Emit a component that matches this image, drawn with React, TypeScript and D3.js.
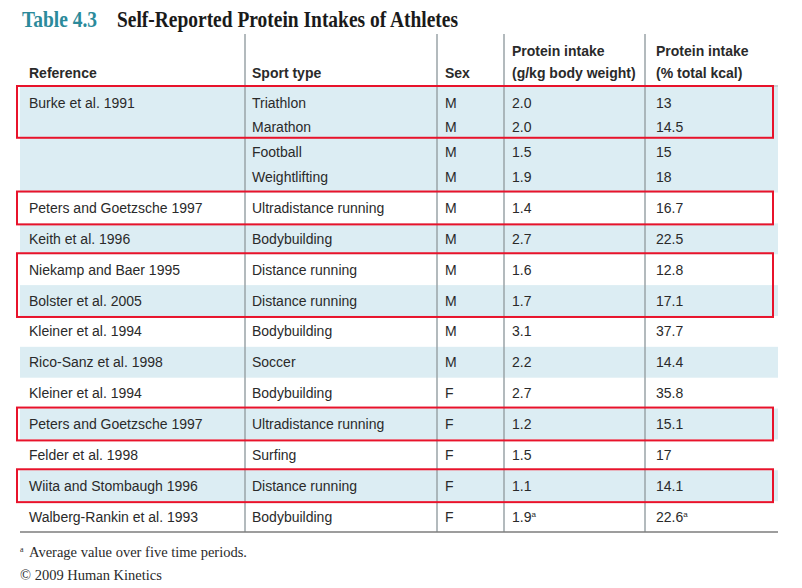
import React from 'react';
import * as d3 from 'd3';

// one entry per printed line of the table
const references = [
  'Burke et al. 1991', '', '', '',
  'Peters and Goetzsche 1997', 'Keith et al. 1996', 'Niekamp and Baer 1995', 'Bolster et al. 2005',
  'Kleiner et al. 1994', 'Rico-Sanz et al. 1998', 'Kleiner et al. 1994', 'Peters and Goetzsche 1997',
  'Felder et al. 1998', 'Wiita and Stombaugh 1996', 'Walberg-Rankin et al. 1993',
];
const sports = [
  'Triathlon', 'Marathon', 'Football', 'Weightlifting',
  'Ultradistance running', 'Bodybuilding', 'Distance running', 'Distance running',
  'Bodybuilding', 'Soccer', 'Bodybuilding', 'Ultradistance running',
  'Surfing', 'Distance running', 'Bodybuilding',
];
const sexes = ['M', 'M', 'M', 'M', 'M', 'M', 'M', 'M', 'M', 'M', 'F', 'F', 'F', 'F', 'F'];
const gPerKg = ['2.0', '2.0', '1.5', '1.9', '1.4', '2.7', '1.6', '1.7', '3.1', '2.2', '2.7', '1.2', '1.5', '1.1', '1.9'];
const pctKcal = ['13', '14.5', '15', '18', '16.7', '22.5', '12.8', '17.1', '37.7', '14.4', '35.8', '15.1', '17', '14.1', '22.6'];
const footnoted = [14];
// highlighted line ranges [first, last]
const highlights = [[0, 1], [4, 4], [6, 7], [11, 11], [13, 13]];

const headers = [
  ['Reference'], ['Sport type'], ['Sex'],
  ['Protein intake', '(g/kg body weight)'], ['Protein intake', '(% total kcal)'],
];
const footnote = 'Average value over five time periods.';
const credit = '\u00A9 2009 Human Kinetics';

const W = 802, H = 588;
const sans = '"Liberation Sans", Arial, sans-serif';
const serif = '"Liberation Serif", "Times New Roman", serif';
const textColor = '#2a2a2a';
const band = '#dcedf3';
const red = '#e8132b';
const rule = '#9aa3a7';

export default function App() {
  const left = 20, right = 778, top = 87, bottom = 532;
  const colText = [29, 252, 445, 512, 656];
  const colSep = [245, 437, 504, 645];

  // group lines into records (a new record starts where a reference is given)
  const starts = references.map((r, i) => (r ? i : -1)).filter(i => i >= 0);
  const records = starts.map((s, k) => ({ start: s, n: (starts[k + 1] ?? references.length) - s }));
  const heights = records.map(r => 31 + (r.n - 1) * 25);
  const tops = [0, ...Array.from(d3.cumsum(heights))];
  const total = tops[tops.length - 1];
  const y = d3.scaleLinear().domain([0, total]).range([top, bottom]);

  const recOf = (i: number) => records.findIndex(r => i >= r.start && i < r.start + r.n);
  const lineTop = (i: number) => {
    const r = recOf(i);
    return y(tops[r] + (i - records[r].start) * 25);
  };
  const lineBottom = (i: number) => {
    const r = recOf(i);
    const k = i - records[r].start;
    return k === records[r].n - 1 ? y(tops[r] + heights[r]) : y(tops[r] + (k + 1) * 25);
  };

  const cells = (i: number) => [references[i], sports[i], sexes[i], gPerKg[i], pctKcal[i]];

  return (
    <svg width={W} height={H} style={{ position: 'absolute', left: 0, top: 0, background: '#fff' }}>
      {/* title */}
      <text x={22} y={27} fontFamily={serif} fontWeight="bold" fontSize={23} fill="#2b8a9b"
        textLength={75} lengthAdjust="spacingAndGlyphs">Table 4.3</text>
      <text x={117} y={27} fontFamily={serif} fontWeight="bold" fontSize={23} fill="#1a1a1a"
        textLength={341} lengthAdjust="spacingAndGlyphs">Self-Reported Protein Intakes of Athletes</text>

      {/* alternating record bands */}
      {records.map((r, k) => k % 2 === 0 && (
        <rect key={k} x={left} y={y(tops[k])} width={right - left} height={y(tops[k] + heights[k]) - y(tops[k])} fill={band} />
      ))}

      {/* rules */}
      {colSep.map((x, k) => (
        <line key={k} x1={x} x2={x} y1={34} y2={bottom} stroke={rule} strokeWidth={1.5} />
      ))}
      <line x1={left} x2={right} y1={86} y2={86} stroke={rule} strokeWidth={1} />
      <line x1={left} x2={right} y1={bottom} y2={bottom} stroke="#7d7d7d" strokeWidth={1.5} />

      {/* header */}
      {headers.map((h, c) => (
        <text key={c} x={colText[c]} fontFamily={sans} fontWeight="bold" fontSize={14} fill={textColor}>
          {h.map((t, j) => (
            <tspan key={j} x={colText[c]} y={78 - (h.length - 1 - j) * 22}>{t}</tspan>
          ))}
        </text>
      ))}

      {/* body */}
      {references.map((_, i) => cells(i).map((v, c) => v && (
        <text key={`${i}-${c}`} x={colText[c]} y={lineTop(i) + 20.5} fontFamily={sans} fontSize={14} fill={textColor}>
          {v}
          {footnoted.includes(i) && c >= 3 && <tspan fontSize={8} dy={-5}>a</tspan>}
        </text>
      )))}

      {/* highlight boxes */}
      {highlights.map(([a, b], k) => (
        <rect key={k} x={17} y={lineTop(a) - 1} width={756} height={lineBottom(b) - lineTop(a) + 2}
          fill="none" stroke={red} strokeWidth={2} />
      ))}

      {/* footnotes */}
      <text x={20} y={557} fontFamily={serif} fontSize={14.5} fill={textColor}>
        <tspan fontSize={8} dy={-5}>a</tspan>
        <tspan x={29} dy={5}>{footnote}</tspan>
      </text>
      <text x={20} y={580} fontFamily={serif} fontSize={14.5} fill={textColor}>{credit}</text>
    </svg>
  );
}
